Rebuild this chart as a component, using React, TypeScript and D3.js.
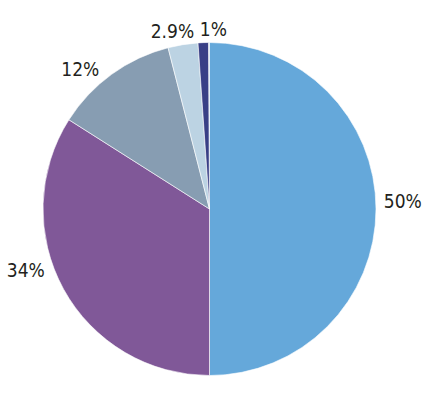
import React from "react";
import * as d3 from "d3";

// shares of each slice, clockwise from 12 o'clock
const labels = ["50%", "34%", "12%", "2.9%", "1%"];
const values = [50, 34, 12, 2.9, 1];
const colors = ["#65a8da", "#805898", "#879db2", "#bcd3e3", "#393f86"];

const width = 430;
const height = 400;
const cx = 209.5;
const cy = 209;
const radius = 166.5;

// label placement tweaks (degrees along the circle, px outward), like the spreadsheet's best-fit labels
const labelShift = [-2.4, 10.5, -6.7, -2.6, 3.4];
const labelGap = [27, 27, 24, 15, 14];

const App: React.FC = () => {
  const pie = d3
    .pie<number>()
    .sort(null)
    .value((d) => d)
    .startAngle(0)
    .endAngle((2 * Math.PI * d3.sum(values)) / 100);

  const arcs = pie(values);
  const arc = d3.arc<d3.PieArcDatum<number>>().innerRadius(0).outerRadius(radius);

  return (
    <svg
      width={width}
      height={height}
      style={{ position: "absolute", left: 0, top: 0, background: "#fff" }}
    >
      <g transform={`translate(${cx},${cy})`}>
        {arcs.map((a, i) => (
          <path
            key={labels[i]}
            d={arc(a) || ""}
            fill={colors[i]}
            stroke="#fff"
            strokeWidth={0.6}
          />
        ))}
        {arcs.map((a, i) => {
          const mid = (a.startAngle + a.endAngle) / 2 + (labelShift[i] * Math.PI) / 180;
          const r = radius + labelGap[i];
          return (
            <text
              key={"l" + labels[i]}
              x={Math.sin(mid) * r}
              y={-Math.cos(mid) * r}
              textAnchor="middle"
              dominantBaseline="central"
              fontFamily="'Liberation Sans Narrow', 'DejaVu Sans Condensed', sans-serif"
              fontSize={19}
              fill="#231f20"
            >
              {labels[i]}
            </text>
          );
        })}
      </g>
    </svg>
  );
};

export default App;
